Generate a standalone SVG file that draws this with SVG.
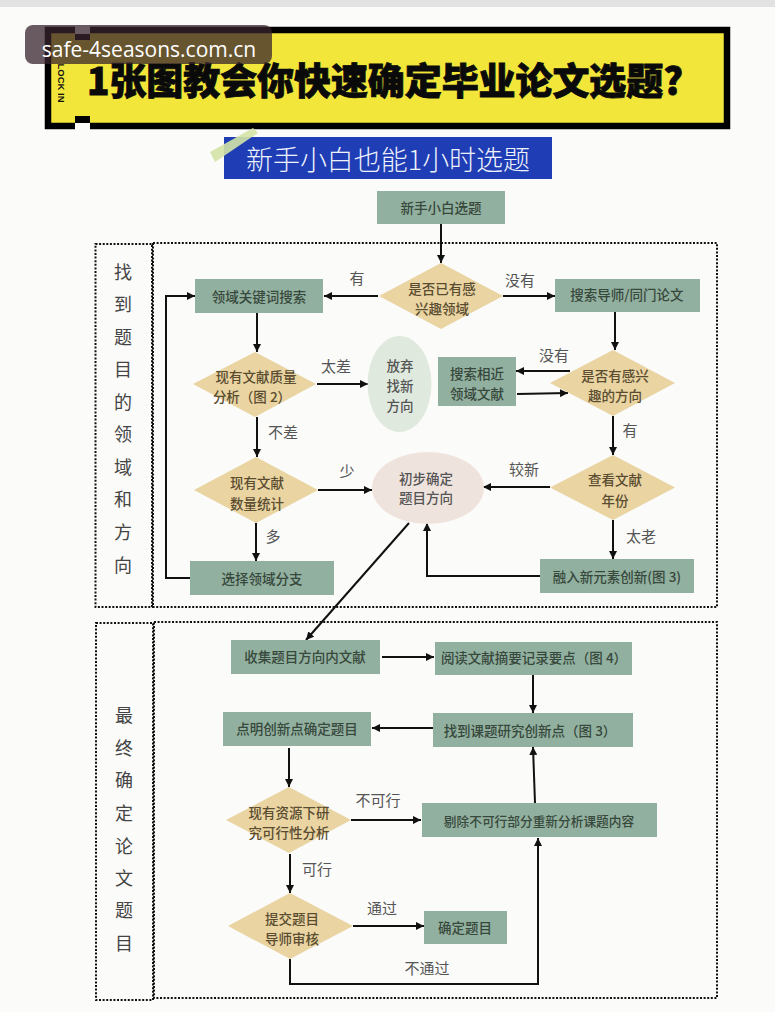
<svg xmlns="http://www.w3.org/2000/svg" width="775" height="1012" viewBox="0 0 775 1012">
<style>
text{font-family:"Noto Sans CJK SC","Noto Sans",sans-serif;text-anchor:middle;dominant-baseline:central}
.r{fill:#92b09f}
.d{fill:#e9d4a2}
.n{font-size:13.5px;fill:#37483c;font-weight:500}
.t{font-size:13.5px;fill:#5a4c30;font-weight:500}
.l{font-size:15px;fill:#555}
.v{font-size:18px;fill:#444}
.f{fill:none;stroke:#111;stroke-width:2;stroke-dasharray:2 1.6}
#connectors path{fill:none;stroke:#111;stroke-width:2}
.a{marker-end:url(#arrow)}
</style>
<defs>
<marker id="arrow" markerUnits="userSpaceOnUse" markerWidth="9" markerHeight="8" refX="8" refY="4" orient="auto"><path d="M0 0L8 4L0 8z" fill="#111"/></marker>
</defs>
<rect width="775" height="1012" fill="#fbfbfa"/>
<rect width="775" height="7" fill="#e2e2e2"/>
<g id="title-bar">
<rect x="48" y="30" width="679" height="96" fill="#f2e63a" stroke="#000" stroke-width="6.5"/>
<rect x="75" y="26" width="15" height="8" fill="#fbfbfa"/>
<rect x="75" y="34" width="15" height="6" fill="#000"/>
<rect x="75" y="116" width="15" height="7" fill="#000"/>
<rect x="75" y="123" width="15" height="7" fill="#fbfbfa"/>
<text transform="translate(61 83) rotate(90)" style="font-family:'Liberation Sans',sans-serif;font-size:9.5px;font-weight:700;fill:#111">LOCK IN</text>
<text x="385" y="79" textLength="596" lengthAdjust="spacing" style="font-size:37px;font-weight:900;fill:#0a0a0a;stroke:#0a0a0a;stroke-width:.8">1张图教会你快速确定毕业论文选题?</text>
</g>
<g id="subtitle">
<rect x="224" y="137" width="328" height="42" fill="#1f3db4"/>
<polygon points="210,152 253,128 258,133 215,162" fill="#d3e3a6" opacity=".9"/>
<text x="388" y="158" textLength="284" lengthAdjust="spacing" style="font-size:27px;font-weight:300;fill:#eef2fb">新手小白也能1小时选题</text>
</g>
<g id="frames">
<rect class="f" x="95.500" y="244" width="56.500" height="363"/>
<rect class="f" x="153" y="243" width="564" height="364"/>
<rect class="f" x="96" y="623" width="57" height="377"/>
<rect class="f" x="154" y="622" width="563" height="376"/>
</g>
<g id="side-labels">
<text class="v" x="123" y="271">找</text><text class="v" x="123" y="303">到</text><text class="v" x="123" y="336">题</text><text class="v" x="123" y="368">目</text><text class="v" x="123" y="401">的</text><text class="v" x="123" y="433">领</text><text class="v" x="123" y="466">域</text><text class="v" x="123" y="498">和</text><text class="v" x="123" y="531">方</text><text class="v" x="123" y="564">向</text>
<text class="v" x="124" y="714">最</text><text class="v" x="124" y="747">终</text><text class="v" x="124" y="779">确</text><text class="v" x="124" y="812">定</text><text class="v" x="124" y="845">论</text><text class="v" x="124" y="877">文</text><text class="v" x="124" y="909">题</text><text class="v" x="124" y="942">目</text>
</g>
<g id="connectors">
<path class="a" d="M441 224V263"/>
<path class="a" d="M378 296H324"/>
<path class="a" d="M503 296H555"/>
<path class="a" d="M257 313V352"/>
<path class="a" d="M317 384H368"/>
<path class="a" d="M257 417V457"/>
<path class="a" d="M318 490H372"/>
<path class="a" d="M256 523V561"/>
<path class="a" d="M190 578H166V296H195"/>
<path class="a" d="M615 312V350"/>
<path class="a" d="M570 371H516"/>
<path class="a" d="M517 394L568 393"/>
<path class="a" d="M613 416V455"/>
<path class="a" d="M550 487H483"/>
<path class="a" d="M613 520V559"/>
<path class="a" d="M540 576H427V523"/>
<path class="a" d="M409 523L306 640"/>
<path class="a" d="M382 657H434"/>
<path class="a" d="M533 675V713"/>
<path class="a" d="M433 728H372"/>
<path class="a" d="M289 748V787"/>
<path class="a" d="M351 820H421"/>
<path class="a" d="M290 854V893"/>
<path class="a" d="M353 926H424"/>
<path class="a" d="M290 959V984H538V838"/>
<path class="a" d="M535 803L533 747"/>
</g>
<g id="edge-labels">
<text class="l" x="357" y="277">有</text><text class="l" x="520" y="279">没有</text><text class="l" x="336" y="365">太差</text><text class="l" x="283" y="431">不差</text><text class="l" x="347" y="470">少</text><text class="l" x="273" y="535">多</text><text class="l" x="554" y="354">没有</text><text class="l" x="630" y="429">有</text><text class="l" x="524" y="468">较新</text><text class="l" x="641" y="535">太老</text><text class="l" x="378" y="799">不可行</text><text class="l" x="317" y="868">可行</text><text class="l" x="382" y="907">通过</text><text class="l" x="427" y="967">不通过</text>
</g>
<g id="n1"><rect class="r" x="377" y="191" width="128" height="33"/><text class="n" x="441" y="207">新手小白选题</text></g>
<g id="n2"><polygon class="d" points="441,263 503,296 441,329 379,296"/><text class="t" x="442" y="288">是否已有感</text><text class="t" x="442" y="308">兴趣领域</text></g>
<g id="n3"><rect class="r" x="195" y="279" width="128" height="34"/><text class="n" x="259" y="296">领域关键词搜索</text></g>
<g id="n4"><rect class="r" x="555" y="279" width="145" height="33"/><text class="n" x="627" y="294">搜索导师/同门论文</text></g>
<g id="n5"><polygon class="d" points="255,352 316,384 255,417 193,384"/><text class="t" x="256" y="376">现有文献质量</text><text class="t" x="252" y="396">分析（图 2）</text></g>
<g id="n6"><ellipse cx="399.500" cy="384" rx="32" ry="48" fill="#e0e9de"/><text class="t" x="400" y="365" style="fill:#555">放弃</text><text class="t" x="400" y="385" style="fill:#555">找新</text><text class="t" x="400" y="405" style="fill:#555">方向</text></g>
<g id="n7"><rect class="r" x="438" y="357" width="78" height="49"/><text class="n" x="477" y="373">搜索相近</text><text class="n" x="477" y="393">领域文献</text></g>
<g id="n8"><polygon class="d" points="613,350 675,383 613,416 550,383"/><text class="t" x="615" y="375">是否有感兴</text><text class="t" x="615" y="395">趣的方向</text></g>
<g id="n9"><polygon class="d" points="256,457 318,490 256,523 194,490"/><text class="t" x="257" y="482">现有文献</text><text class="t" x="257" y="503">数量统计</text></g>
<g id="n10"><ellipse cx="428" cy="488" rx="56" ry="36" fill="#efe3de"/><text class="t" x="426" y="478" style="fill:#555">初步确定</text><text class="t" x="426" y="497" style="fill:#555">题目方向</text></g>
<g id="n11"><polygon class="d" points="613,455 675,487.500 613,520 550,487.500"/><text class="t" x="615" y="479">查看文献</text><text class="t" x="615" y="500">年份</text></g>
<g id="n12"><rect class="r" x="190" y="561" width="144" height="34"/><text class="n" x="262" y="578">选择领域分支</text></g>
<g id="n13"><rect class="r" x="540" y="559" width="154" height="34"/><text class="n" x="617" y="576">融入新元素创新(图 3)</text></g>
<g id="n14"><rect class="r" x="231" y="640" width="149" height="34"/><text class="n" x="305" y="656">收集题目方向内文献</text></g>
<g id="n15"><rect class="r" x="435" y="642" width="197" height="33"/><text class="n" x="534" y="657">阅读文献摘要记录要点（图 4）</text></g>
<g id="n16"><rect class="r" x="223" y="712" width="148" height="34"/><text class="n" x="297" y="728">点明创新点确定题目</text></g>
<g id="n17"><rect class="r" x="433" y="713" width="200" height="34"/><text class="n" x="530" y="730">找到课题研究创新点（图 3）</text></g>
<g id="n18"><polygon class="d" points="289,787 351,820 289,853 226,820"/><text class="t" x="289" y="812">现有资源下研</text><text class="t" x="289" y="832">究可行性分析</text></g>
<g id="n19"><rect class="r" x="422" y="803" width="235" height="34"/><text class="n" x="539" y="820" style="font-size:12.700px">剔除不可行部分重新分析课题内容</text></g>
<g id="n20"><polygon class="d" points="290,893 353,926 290,959 228,926"/><text class="t" x="292" y="918">提交题目</text><text class="t" x="292" y="938">导师审核</text></g>
<g id="n21"><rect class="r" x="424" y="911" width="83" height="33"/><text class="n" x="465" y="927">确定题目</text></g>
<g id="watermark">
<rect x="25" y="25" width="247" height="39" rx="8" fill="#38242e" fill-opacity=".75"/>
<text x="149" y="49" style="font-family:'Open Sans',sans-serif;font-size:21px;fill:#fff">safe-4seasons.com.cn</text>
</g>
</svg>
